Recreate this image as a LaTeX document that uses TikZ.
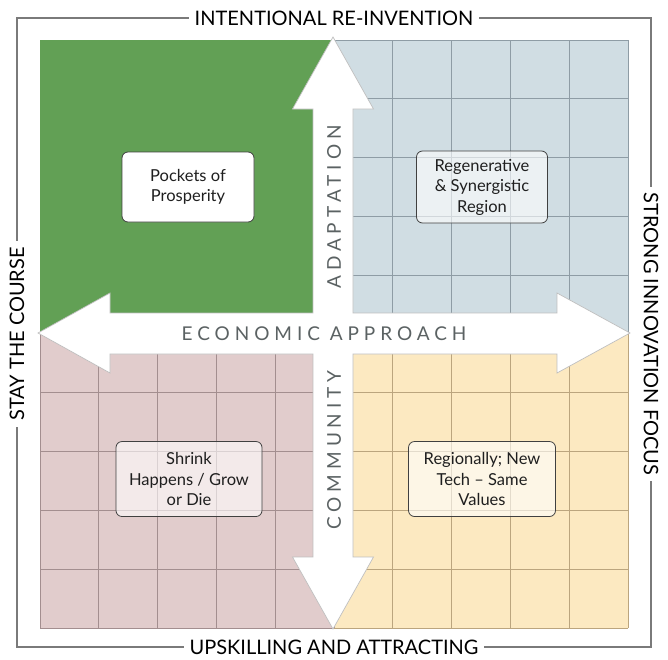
\documentclass[tikz,border=0pt]{standalone}
\usepackage{fontspec}
\setmainfont{Lato}
\newfontfamily\spacedfont[LetterSpace=26]{Lato}
\usetikzlibrary{shapes,calc}
\definecolor{prosper}{HTML}{62A055}
\definecolor{regenfill}{HTML}{D0DDE3}
\definecolor{regenline}{HTML}{8E9CA5}
\definecolor{shrinkfill}{HTML}{E1CCCC}
\definecolor{shrinkline}{HTML}{A38E8F}
\definecolor{techfill}{HTML}{FCE9C1}
\definecolor{techline}{HTML}{BBA57E}
\definecolor{axistext}{HTML}{5B6263}
\definecolor{frameline}{HTML}{7A7A7A}
\begin{document}
\begin{tikzpicture}[x=1pt,y=-1pt]
				\tikzstyle{outerlabel}=[fill=white, inner xsep=6pt, inner ysep=2pt, font=\fontsize{20}{22}\selectfont, text=black]
				\tikzstyle{axislabel}=[font=\spacedfont\fontsize{19}{21}\selectfont, text=axistext]
				\tikzstyle{quadbox}=[rectangle, rounded corners=6pt, draw=black!75, line width=0.8pt, align=center, font=\fontsize{16.5}{20.5}\selectfont, text=black!88, inner sep=0pt]
				\useasboundingbox (0,0) rectangle (668,659);
				\draw[frameline, line width=1.2pt] (17,18) rectangle (651,647);
				\fill[prosper] (40,40) rectangle (334,334);
				\fill[regenfill] (334,40) rectangle (628,334);
				\fill[shrinkfill] (40,334) rectangle (334,628);
				\fill[techfill] (334,334) rectangle (628,628);
				\foreach \k in {0,...,5} {
					\draw[regenline, line width=1pt] ({334+58.8*\k},40) -- ({334+58.8*\k},334);
					\draw[regenline, line width=1pt] (334,{40+58.8*\k}) -- (628,{40+58.8*\k});
					\draw[shrinkline, line width=1pt] ({40+58.8*\k},334) -- ({40+58.8*\k},628);
					\draw[shrinkline, line width=1pt] (40,{334+58.8*\k}) -- (334,{334+58.8*\k});
					\draw[techline, line width=1pt] ({334+58.8*\k},334) -- ({334+58.8*\k},628);
					\draw[techline, line width=1pt] (334,{334+58.8*\k}) -- (628,{334+58.8*\k});
				}
				\filldraw[fill=white, draw=black!25, line width=0.7pt]
					(333,37) -- (373.5,109) -- (353,109) -- (353,313) -- (557,313) -- (557,293) -- (630,333) -- (557,373) -- (557,354) -- (353,354) -- (353,557) -- (373.5,557) -- (333,629) -- (292.5,557) -- (313,557) -- (313,354) -- (110,354) -- (110,373) -- (38,333) -- (110,293) -- (110,313) -- (313,313) -- (313,109) -- (292.5,109) -- cycle;
				\node[axislabel] (approach) at (324,334) {ECONOMIC APPROACH};
				\node[axislabel, rotate=90] (adapt) at (334,207) {ADAPTATION};
				\node[axislabel, rotate=90] (community) at (334,450) {COMMUNITY};
				\node[quadbox, fill=white, minimum width=132pt, minimum height=70pt] (pockets) at (188,187) {Pockets of\\Prosperity};
				\node[quadbox, fill=white, fill opacity=0.6, text opacity=1, minimum width=131pt, minimum height=72pt] (regen) at (482,187) {Regenerative\\\& Synergistic\\Region};
				\node[quadbox, fill=white, fill opacity=0.6, text opacity=1, minimum width=146pt, minimum height=75pt] (shrink) at (189,479) {Shrink\\Happens / Grow\\or Die};
				\node[quadbox, fill=white, fill opacity=0.6, text opacity=1, minimum width=147pt, minimum height=75pt] (tech) at (482,479) {Regionally; New\\Tech -- Same\\Values};
				\node[outerlabel] (reinvent) at (334,18) {INTENTIONAL RE-INVENTION};
				\node[outerlabel] (upskill) at (334,647) {UPSKILLING AND ATTRACTING};
				\node[outerlabel, rotate=90] (stay) at (17,334) {STAY THE COURSE};
				\node[outerlabel, rotate=-90] (innovate) at (651,334) {STRONG INNOVATION FOCUS};
\end{tikzpicture}
\end{document}
